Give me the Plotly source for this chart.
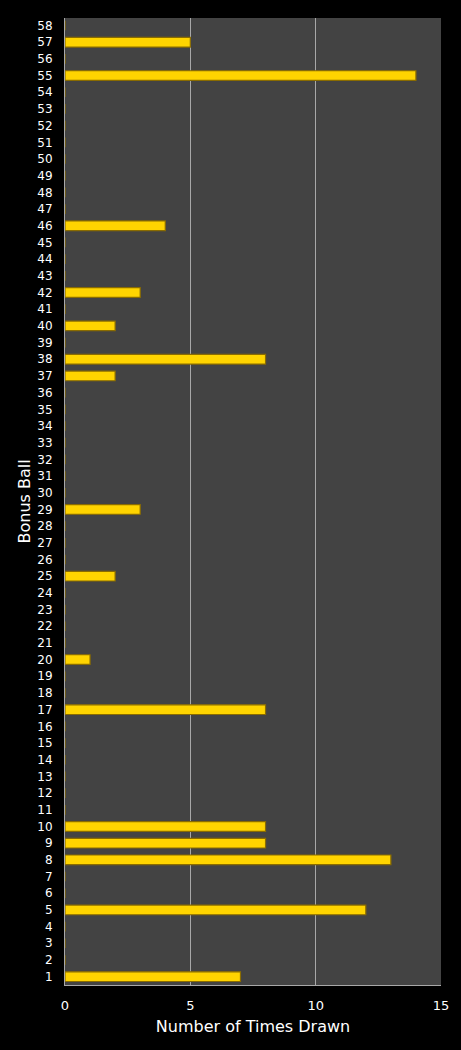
import plotly.graph_objects as go

bonus_balls = list(range(1, 59))
drawn = {1: 7, 5: 12, 8: 13, 9: 8, 10: 8, 17: 8, 20: 1, 25: 2, 29: 3,
         37: 2, 38: 8, 40: 2, 42: 3, 46: 4, 55: 14, 57: 5}
times_drawn = [drawn.get(b, 0) for b in bonus_balls]
x_ticks = [0, 5, 10, 15]

fig = go.Figure(go.Bar(
    x=times_drawn, y=bonus_balls, orientation="h", width=0.58,
    marker=dict(color="#FFD400", line=dict(color="#8A6C00", width=1.2)),
))

font = "Verdana, DejaVu Sans, sans-serif"
fig.update_layout(
    width=461, height=1050,
    paper_bgcolor="#000000", plot_bgcolor="#434343",
    margin=dict(l=65, r=20, t=18, b=65, autoexpand=False),
    showlegend=False,
    font=dict(family=font, color="#FFFFFF", size=12),
)
fig.update_xaxes(
    range=[0, 15], tickvals=x_ticks, showgrid=True, gridcolor="#A8A8A8", gridwidth=1,
    zeroline=False, showline=True, linecolor="#A8A8A8", mirror=False, automargin=False,
    ticks="", ticklabelstandoff=8, tickfont=dict(size=13, color="#FFFFFF"),
    title=dict(text="Number of Times Drawn", font=dict(size=16, color="#FFFFFF"), standoff=9),
)
fig.update_yaxes(
    range=[0.5, 58.45], tickvals=bonus_balls, ticktext=[str(b) for b in bonus_balls],
    showgrid=False, zeroline=False, showline=True, linecolor="#A8A8A8", automargin=False,
    ticks="", ticklabelstandoff=9, tickfont=dict(size=12, color="#FFFFFF"),
    title=dict(text=""),
)
fig.add_annotation(
    text="Bonus Ball", xref="paper", yref="paper", x=-(65 - 24) / 376, y=0.5,
    xanchor="center", yanchor="middle", textangle=-90, showarrow=False,
    font=dict(size=16, color="#FFFFFF", family=font),
)
fig.write_html("out.html", config={"displayModeBar": False},
               post_script="document.body.style.margin='0';document.body.style.background='#000';")
